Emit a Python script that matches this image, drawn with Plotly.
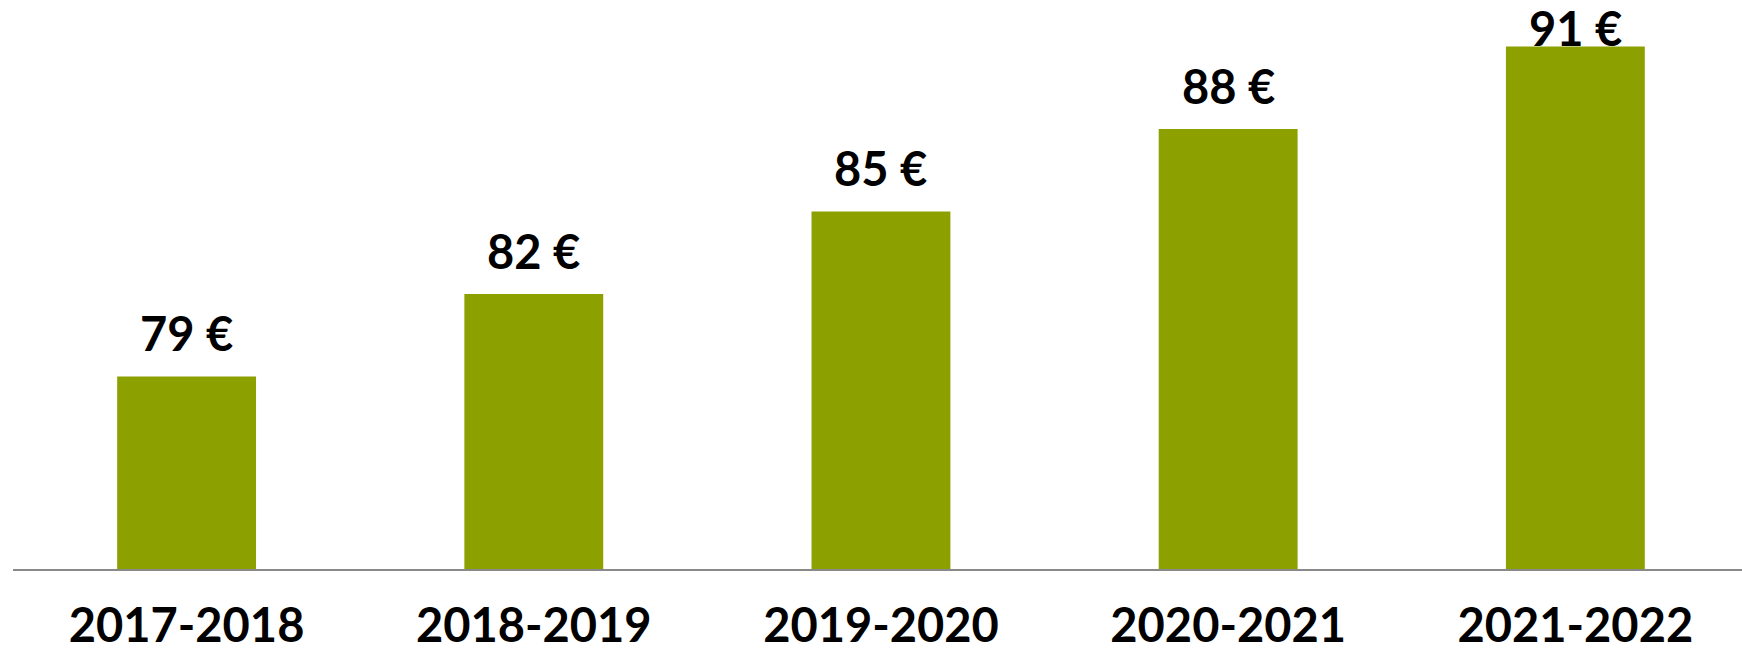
import plotly.graph_objects as go

categories = ["2017-2018", "2018-2019", "2019-2020", "2020-2021", "2021-2022"]
values = [79, 82, 85, 88, 91]
value_labels = ["79 €", "82 €", "85 €", "88 €", "91 €"]

BAR_COLOR = "#8CA100"
FONT = "Lato"
Y_MIN, Y_MAX = 72, 92.69
LABEL_GAP_PX = 27  # gap between bar top and label baseline
PLOT_H = 569
px_per_unit = PLOT_H / (Y_MAX - Y_MIN)

fig = go.Figure()
fig.add_trace(go.Bar(
    x=categories, y=values,
    marker=dict(color=BAR_COLOR, line=dict(width=0)),
    width=0.4,
    hoverinfo="skip",
))

annotations = []
for c, v, t in zip(categories, values, value_labels):
    top_px = PLOT_H - (v - Y_MIN) * px_per_unit - LABEL_GAP_PX - 40
    if top_px < 4:
        annotations.append(dict(x=c, y=1, xref="x", yref="paper", yanchor="top",
                                text=t, showarrow=False, yshift=2,
                                font=dict(family=FONT, size=47, color="black", weight=700)))
    else:
        annotations.append(dict(x=c, y=v, xref="x", yref="y", yanchor="bottom",
                                text=t, showarrow=False, yshift=LABEL_GAP_PX - 14,
                                font=dict(family=FONT, size=47, color="black", weight=700)))

fig.update_layout(
    width=1742, height=648,
    margin=dict(l=13, r=0, t=0, b=648 - PLOT_H, pad=0, autoexpand=False),
    paper_bgcolor="white", plot_bgcolor="white",
    showlegend=False,
    annotations=annotations,
    xaxis=dict(
        range=[-0.5, 4.48], showline=True, linecolor="#898989", linewidth=2,
        showgrid=False, zeroline=False, ticks="", automargin=False,
        tickfont=dict(family=FONT, size=47, color="black", weight=700),
        ticklabelstandoff=15,
    ),
    yaxis=dict(range=[Y_MIN, Y_MAX], visible=False, showgrid=False, zeroline=False,
               automargin=False),
)

fig.write_html("out.html", config={"displayModeBar": False},
               post_script="document.body.style.margin='0px';document.body.style.overflow='hidden';")
